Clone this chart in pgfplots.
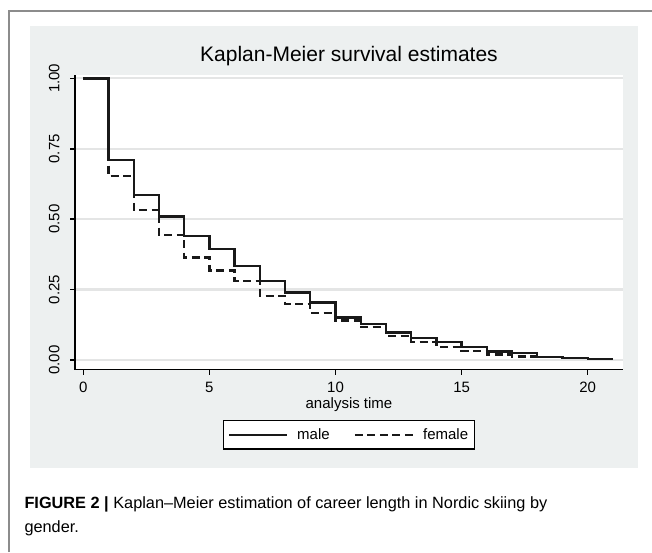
\documentclass[border=0pt]{standalone}
\usepackage{fontspec}
\setmainfont{Liberation Sans}
\usepackage{pgfplots}
\pgfplotsset{compat=1.18}
\definecolor{panel}{RGB}{237,240,240}
\definecolor{gridgray}{RGB}{228,229,229}
\definecolor{frame}{RGB}{140,140,140}
\definecolor{curve}{RGB}{25,25,25}

\begin{document}
\begin{tikzpicture}
  \useasboundingbox (0pt,0pt) rectangle (652pt,-552pt);
  % page frame and graph panel
  \draw[frame, line width=1.2pt] (9pt,-552pt) -- (9pt,-11pt) -- (652pt,-11pt);
  \fill[panel] (30pt,-26pt) rectangle (638pt,-468pt);
  \node at (349pt,-56pt) {\fontsize{21}{25}\selectfont Kaplan-Meier survival estimates};

  \begin{axis}[
      at={(75pt,-369.5pt)}, anchor=south west,
      scale only axis,
      width=548pt, height=294.5pt,
      xmin=-0.33, xmax=21.4,
      ymin=-0.034, ymax=1.012,
      axis background/.style={fill=white},
      axis x line*=bottom, axis y line*=left,
      axis line style={-, line width=1.5pt, black},
      tick style={line width=1.5pt, black},
      tick align=outside,
      major tick length=5pt,
      xtick={0,5,10,15,20},
      ytick={0,0.25,0.5,0.75,1},
      ymajorgrids,
      grid style={draw=gridgray, line width=2.2pt},
      /pgf/number format/assume math mode=true,
      ticklabel style={font=\fontsize{15}{18}\selectfont},
      yticklabel style={xshift=-7pt, rotate=90, anchor=south,
        /pgf/number format/.cd, fixed, fixed zerofill, precision=2},
      xticklabel style={yshift=-4pt},
      xlabel={analysis time},
      xlabel style={font=\fontsize{15}{18}\selectfont, yshift=2pt},
      legend columns=2,
      legend style={at={(0.5,-0.1715)}, anchor=north, draw=black,
        line width=1.3pt, fill=white, font=\fontsize{15}{18}\selectfont,
        inner xsep=4pt, inner ysep=6pt,
        /tikz/every odd column/.append style={column sep=7pt},
        /tikz/every even column/.append style={column sep=22pt}},
      legend image code/.code={\draw[#1, line width=2.4pt] (0pt,0pt) -- (58pt,0pt);},
    ]
    % male
    \addplot[curve, line width=2.4pt, const plot] coordinates {
      (0,1.000)(1,0.710)(2,0.586)(3,0.509)(4,0.441)(5,0.393)(6,0.334)
      (7,0.280)(8,0.239)(9,0.204)(10,0.151)(11,0.128)(12,0.097)(13,0.077)
      (14,0.063)(15,0.045)(16,0.030)(17,0.024)(18,0.010)(19,0.006)
      (20,0.0025)(21,0.0025)
    };
    % female
    \addplot[curve, line width=2.4pt, const plot, dash pattern=on 8pt off 4.5pt] coordinates {
      (0,1.000)(1,0.653)(2,0.532)(3,0.444)(4,0.364)(5,0.318)(6,0.280)
      (7,0.227)(8,0.198)(9,0.166)(10,0.140)(11,0.118)(12,0.085)(13,0.063)
      (14,0.047)(15,0.032)(16,0.020)(17,0.012)(18,0.012)
    };
    \legend{male, female}
  \end{axis}

  \node[anchor=base west, font=\fontsize{16.3}{19}\selectfont] at (21pt,-508pt)
    {\textbf{FIGURE 2 |} Kaplan–Meier estimation of career length in Nordic skiing by};
  \node[anchor=base west, font=\fontsize{16.3}{19}\selectfont] at (21pt,-532pt) {gender.};
\end{tikzpicture}
\end{document}
